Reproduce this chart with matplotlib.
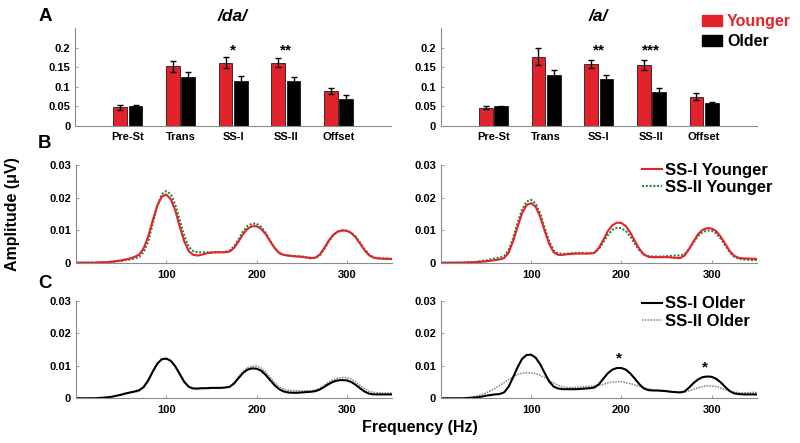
import numpy as np
import matplotlib
matplotlib.use('Agg')
import matplotlib.pyplot as plt
from matplotlib.patches import Patch
from matplotlib.lines import Line2D

plt.rcParams['font.family'] = ['Liberation Sans', 'DejaVu Sans']
plt.rcParams['font.weight'] = 'bold'

# ---- panel A: bar data ----
cats = ['Pre-St', 'Trans', 'SS-I', 'SS-II', 'Offset']
da_young = [0.048, 0.152, 0.162, 0.162, 0.089]
da_young_err = [0.006, 0.013, 0.014, 0.012, 0.008]
da_old = [0.051, 0.125, 0.115, 0.114, 0.069]
da_old_err = [0.002, 0.012, 0.012, 0.010, 0.009]
a_young = [0.047, 0.177, 0.159, 0.156, 0.075]
a_young_err = [0.004, 0.021, 0.010, 0.013, 0.008]
a_old = [0.050, 0.130, 0.119, 0.087, 0.058]
a_old_err = [0.002, 0.012, 0.010, 0.009, 0.003]
da_stars = {'SS-I': '*', 'SS-II': '**'}
a_stars = {'SS-I': '**', 'SS-II': '***'}

# ---- panels B/C: spectra, 5 Hz steps ----
freq = np.arange(0, 355, 5)
da_ss1_young = [0, 0, 0, 0, 0, 0.0001, 0.0001, 0.0002, 0.0003, 0.0005, 0.0007, 0.001, 0.0013, 0.0018,
                0.0025, 0.0045, 0.008, 0.013, 0.0175, 0.0203, 0.0209, 0.0195, 0.016, 0.011, 0.0065,
                0.0035, 0.0024, 0.0022, 0.0025, 0.0029, 0.0031, 0.0032, 0.0032, 0.0032, 0.0034, 0.0045,
                0.0065, 0.0088, 0.0104, 0.0112, 0.0112, 0.0104, 0.0088, 0.0066, 0.0045, 0.003, 0.0024,
                0.0022, 0.002, 0.0019, 0.0018, 0.0016, 0.0014, 0.0015, 0.0025, 0.0045, 0.0068, 0.0086,
                0.0096, 0.0099, 0.0098, 0.0091, 0.0077, 0.0057, 0.0037, 0.0022, 0.0015, 0.0013, 0.0012,
                0.0012, 0.0011]
da_ss2_young = [0, 0, 0, 0, 0, 0.0001, 0.0001, 0.0002, 0.0003, 0.0004, 0.0006, 0.0008, 0.001, 0.0013,
                0.0018, 0.0033, 0.0065, 0.012, 0.0175, 0.021, 0.022, 0.021, 0.0178, 0.013, 0.0082,
                0.0048, 0.0035, 0.0032, 0.0032, 0.0032, 0.0032, 0.0032, 0.0032, 0.0033, 0.0037, 0.005,
                0.0072, 0.0096, 0.0113, 0.012, 0.012, 0.011, 0.0092, 0.0068, 0.0046, 0.003, 0.0024,
                0.0022, 0.0021, 0.002, 0.0019, 0.0017, 0.0015, 0.0015, 0.0022, 0.0042, 0.0065, 0.0084,
                0.0095, 0.0099, 0.0098, 0.0092, 0.0079, 0.006, 0.004, 0.0024, 0.0016, 0.0014, 0.0013,
                0.0013, 0.0012]
a_ss1_young = [0, 0, 0, 0, 0, 0, 0.0001, 0.0001, 0.0002, 0.0003, 0.0004, 0.0006, 0.0008, 0.001,
               0.0014, 0.003, 0.0065, 0.011, 0.0152, 0.0177, 0.0183, 0.0172, 0.0142, 0.0098, 0.0058,
               0.0032, 0.0024, 0.0024, 0.0026, 0.0027, 0.0028, 0.0028, 0.0028, 0.0028, 0.003, 0.0045,
               0.007, 0.0097, 0.0115, 0.0123, 0.0122, 0.0112, 0.0092, 0.0066, 0.0042, 0.0025, 0.0018,
               0.0017, 0.0017, 0.0017, 0.0017, 0.0016, 0.0015, 0.0014, 0.0022, 0.0042, 0.0066, 0.0088,
               0.0101, 0.0106, 0.0105, 0.0097, 0.008, 0.0058, 0.0036, 0.0021, 0.0015, 0.0013, 0.0013,
               0.0012, 0.0012]
a_ss2_young = [0, 0, 0, 0, 0, 0.0001, 0.0001, 0.0002, 0.0003, 0.0005, 0.0007, 0.001, 0.0013, 0.0016,
               0.002, 0.0038, 0.0075, 0.0122, 0.0163, 0.0188, 0.0193, 0.0182, 0.0152, 0.0108, 0.0066,
               0.0038, 0.0028, 0.0027, 0.0028, 0.0029, 0.003, 0.003, 0.003, 0.003, 0.0031, 0.0042,
               0.0063, 0.0085, 0.0101, 0.0107, 0.0106, 0.0097, 0.008, 0.0058, 0.0038, 0.0025, 0.002,
               0.0019, 0.0019, 0.0019, 0.002, 0.0021, 0.0022, 0.0022, 0.0026, 0.0042, 0.0063, 0.0082,
               0.0094, 0.0099, 0.0098, 0.009, 0.0074, 0.0053, 0.0032, 0.0018, 0.0012, 0.001, 0.0009,
               0.0008, 0.0008]
da_ss1_old = [0, 0, 0, 0, 0, 0.0001, 0.0002, 0.0003, 0.0005, 0.0008, 0.0011, 0.0015, 0.0018, 0.0021,
              0.0025, 0.0035, 0.0055, 0.0082, 0.0106, 0.012, 0.0122, 0.0115, 0.0098, 0.0074, 0.005,
              0.0035, 0.003, 0.003, 0.0031, 0.0031, 0.0032, 0.0032, 0.0032, 0.0033, 0.0035, 0.0045,
              0.0062, 0.0078, 0.0088, 0.0092, 0.0091, 0.0085, 0.0072, 0.0056, 0.004, 0.0028, 0.0021,
              0.0018, 0.0017, 0.0017, 0.0018, 0.0019, 0.002, 0.0022, 0.0027, 0.0035, 0.0044, 0.0051,
              0.0055, 0.0056, 0.0055, 0.005, 0.0041, 0.003, 0.002, 0.0014, 0.0012, 0.0012, 0.0012,
              0.0012, 0.0012]
da_ss2_old = [0, 0, 0, 0, 0, 0.0001, 0.0002, 0.0003, 0.0005, 0.0008, 0.0011, 0.0014, 0.0017, 0.0019,
              0.0022, 0.0033, 0.0054, 0.0082, 0.0107, 0.012, 0.0121, 0.0115, 0.0098, 0.0075, 0.0051,
              0.0036, 0.003, 0.003, 0.0031, 0.0031, 0.0032, 0.0032, 0.0032, 0.0033, 0.0036, 0.0048,
              0.0066, 0.0083, 0.0094, 0.0099, 0.0099, 0.0093, 0.0081, 0.0065, 0.0049, 0.0035, 0.0028,
              0.0025, 0.0024, 0.0023, 0.0023, 0.0023, 0.0023, 0.0025, 0.0031, 0.004, 0.005, 0.0057,
              0.0062, 0.0064, 0.0063, 0.0059, 0.005, 0.0039, 0.0029, 0.0021, 0.0018, 0.0017, 0.0016,
              0.0016, 0.0016]
a_ss1_old = [0, 0, 0, 0, 0, 0, 0.0001, 0.0002, 0.0003, 0.0005, 0.0008, 0.001, 0.0012, 0.0013,
             0.0018, 0.0035, 0.0064, 0.0095, 0.0121, 0.0133, 0.0134, 0.0125, 0.0105, 0.0078, 0.0052,
             0.0036, 0.003, 0.0028, 0.0028, 0.0028, 0.0028, 0.0029, 0.003, 0.0031, 0.0033, 0.0043,
             0.006, 0.0077, 0.0088, 0.0093, 0.0093, 0.0088, 0.0076, 0.006, 0.0043, 0.003, 0.0025,
             0.0024, 0.0024, 0.0023, 0.0022, 0.002, 0.0019, 0.0018, 0.0021, 0.0033, 0.0047, 0.0058,
             0.0065, 0.0067, 0.0066, 0.006, 0.0049, 0.0035, 0.0022, 0.0015, 0.0013, 0.0012, 0.0012,
             0.0012, 0.0012]
a_ss2_old = [0, 0, 0, 0, 0, 0.0001, 0.0002, 0.0004, 0.0007, 0.0011, 0.0016, 0.0023, 0.003, 0.0039,
             0.0048, 0.0057, 0.0066, 0.0073, 0.0077, 0.0079, 0.0078, 0.0076, 0.0071, 0.0064, 0.0056,
             0.0047, 0.004, 0.0035, 0.0033, 0.0033, 0.0034, 0.0035, 0.0036, 0.0037, 0.0038, 0.004,
             0.0043, 0.0047, 0.005, 0.0051, 0.0051, 0.0048, 0.0045, 0.0041, 0.0037, 0.0033, 0.0029,
             0.0026, 0.0024, 0.0022, 0.0021, 0.002, 0.0019, 0.0018, 0.0019, 0.0023, 0.0028, 0.0033,
             0.0036, 0.0038, 0.0038, 0.0036, 0.0032, 0.0027, 0.0023, 0.0019, 0.0017, 0.0017, 0.0017,
             0.0018, 0.0018]
# significance stars on the /a/ older spectra: (freq, amplitude)
c_stars = [(197, 0.0122), (293, 0.0096)]

RED = '#e3232c'
GREEN = '#1f8a3c'
GRAY = '#808080'
AXC = '#8c8c8c'


def style(ax):
    for s in ['top', 'right']:
        ax.spines[s].set_visible(False)
    for s in ['left', 'bottom']:
        ax.spines[s].set_color(AXC)
        ax.spines[s].set_linewidth(0.8)
    ax.tick_params(labelsize=8, colors=AXC, labelcolor='black', direction='in', length=2, width=0.6)


fig = plt.figure(figsize=(8, 4.43), dpi=100)

x = np.arange(1, len(cats) + 1)
off = 0.145
bw = 0.26
bar_sets = [(da_young, da_young_err, da_old, da_old_err, da_stars, '/da/', 0.094),
            (a_young, a_young_err, a_old, a_old_err, a_stars, '/a/', 0.551)]
for yv, ye, ov, oe, stars, title, left in bar_sets:
    ax = fig.add_axes([left, 0.7156, 0.395, 0.221])
    ax.bar(x - off, yv, bw, color=RED, edgecolor='black', linewidth=0.5,
           yerr=ye, error_kw=dict(ecolor='black', elinewidth=1, capsize=2.5, capthick=1))
    ax.bar(x + off, ov, bw, color='black', edgecolor='black', linewidth=0.5,
           yerr=oe, error_kw=dict(ecolor='black', elinewidth=1, capsize=2.5, capthick=1))
    for c, s in stars.items():
        i = cats.index(c) + 1
        ax.text(i, 0.194, s, ha='center', va='center', fontsize=11, fontweight='bold')
    ax.set_xlim(0, 6)
    ax.set_ylim(0, 0.25)
    ax.set_yticks([0, 0.05, 0.1, 0.15, 0.2])
    ax.set_yticklabels(['0', '0.05', '0.1', '0.15', '0.2'])
    ax.set_xticks(x)
    ax.set_xticklabels(cats)
    style(ax)
    ax.tick_params(axis='x', length=0, pad=4)
    fig.text(left + 0.197, 0.962, title, ha='center', va='center', fontsize=12.5,
             fontweight='bold', style='italic')

leg = fig.legend([Patch(facecolor=RED, edgecolor=RED), Patch(facecolor='black', edgecolor='black')],
                 ['Younger', 'Older'], loc='upper left', bbox_to_anchor=(0.878, 0.968),
                 frameon=False, fontsize=11.5, handlelength=1.2, handleheight=0.7,
                 handletextpad=0.35, labelspacing=0.3, borderpad=0, borderaxespad=0)
leg.get_texts()[0].set_color(RED)

spectra = [
    (0.407, da_ss1_young, da_ss2_young, a_ss1_young, a_ss2_young,
     dict(color=RED, lw=1.5, ls='-'), dict(color=GREEN, lw=1.5, ls=(0, (1, 0.8))),
     ['SS-I Younger', 'SS-II Younger'], 0.633),
    (0.1009, da_ss1_old, da_ss2_old, a_ss1_old, a_ss2_old,
     dict(color='black', lw=1.5, ls='-'), dict(color=GRAY, lw=1.1, ls=(0, (1, 0.8))),
     ['SS-I Older', 'SS-II Older'], 0.331),
]
for bottom, d1, d2, a1, a2, st1, st2, labels, legy in spectra:
    axes = []
    for left, s1, s2 in [(0.095, d1, d2), (0.551, a1, a2)]:
        ax = fig.add_axes([left, bottom, 0.395, 0.2205])
        ax.plot(freq, s2, **st2)
        ax.plot(freq, s1, **st1)
        ax.set_xlim(0, 350)
        ax.set_ylim(0, 0.03)
        ax.set_yticks([0, 0.01, 0.02, 0.03])
        ax.set_yticklabels(['0', '0.01', '0.02', '0.03'])
        ax.set_xticks([100, 200, 300])
        style(ax)
        ax.tick_params(axis='x', pad=5)
        axes.append(ax)
    fig.legend([Line2D([], [], **st1), Line2D([], [], **st2)], labels, loc='upper left',
               bbox_to_anchor=(0.803, legy), frameon=False, fontsize=12, handlelength=1.2,
               handletextpad=0.15, labelspacing=0.15, borderpad=0, borderaxespad=0)
    last = axes[1]

for fx, fy in c_stars:
    last.text(fx, fy, '*', ha='center', va='center', fontsize=11, fontweight='bold')

fig.text(0.056, 0.962, 'A', ha='center', va='center', fontsize=13.5, fontweight='bold')
fig.text(0.056, 0.677, 'B', ha='center', va='center', fontsize=13.5, fontweight='bold')
fig.text(0.056, 0.361, 'C', ha='center', va='center', fontsize=13.5, fontweight='bold')
fig.text(0.016, 0.517, 'Amplitude (\u03bcV)', ha='center', va='center', rotation=90,
         fontsize=11.5, fontweight='bold')
fig.text(0.525, 0.036, 'Frequency (Hz)', ha='center', va='center', fontsize=11.5, fontweight='bold')

fig.savefig('out.png', dpi=100, facecolor='w')
